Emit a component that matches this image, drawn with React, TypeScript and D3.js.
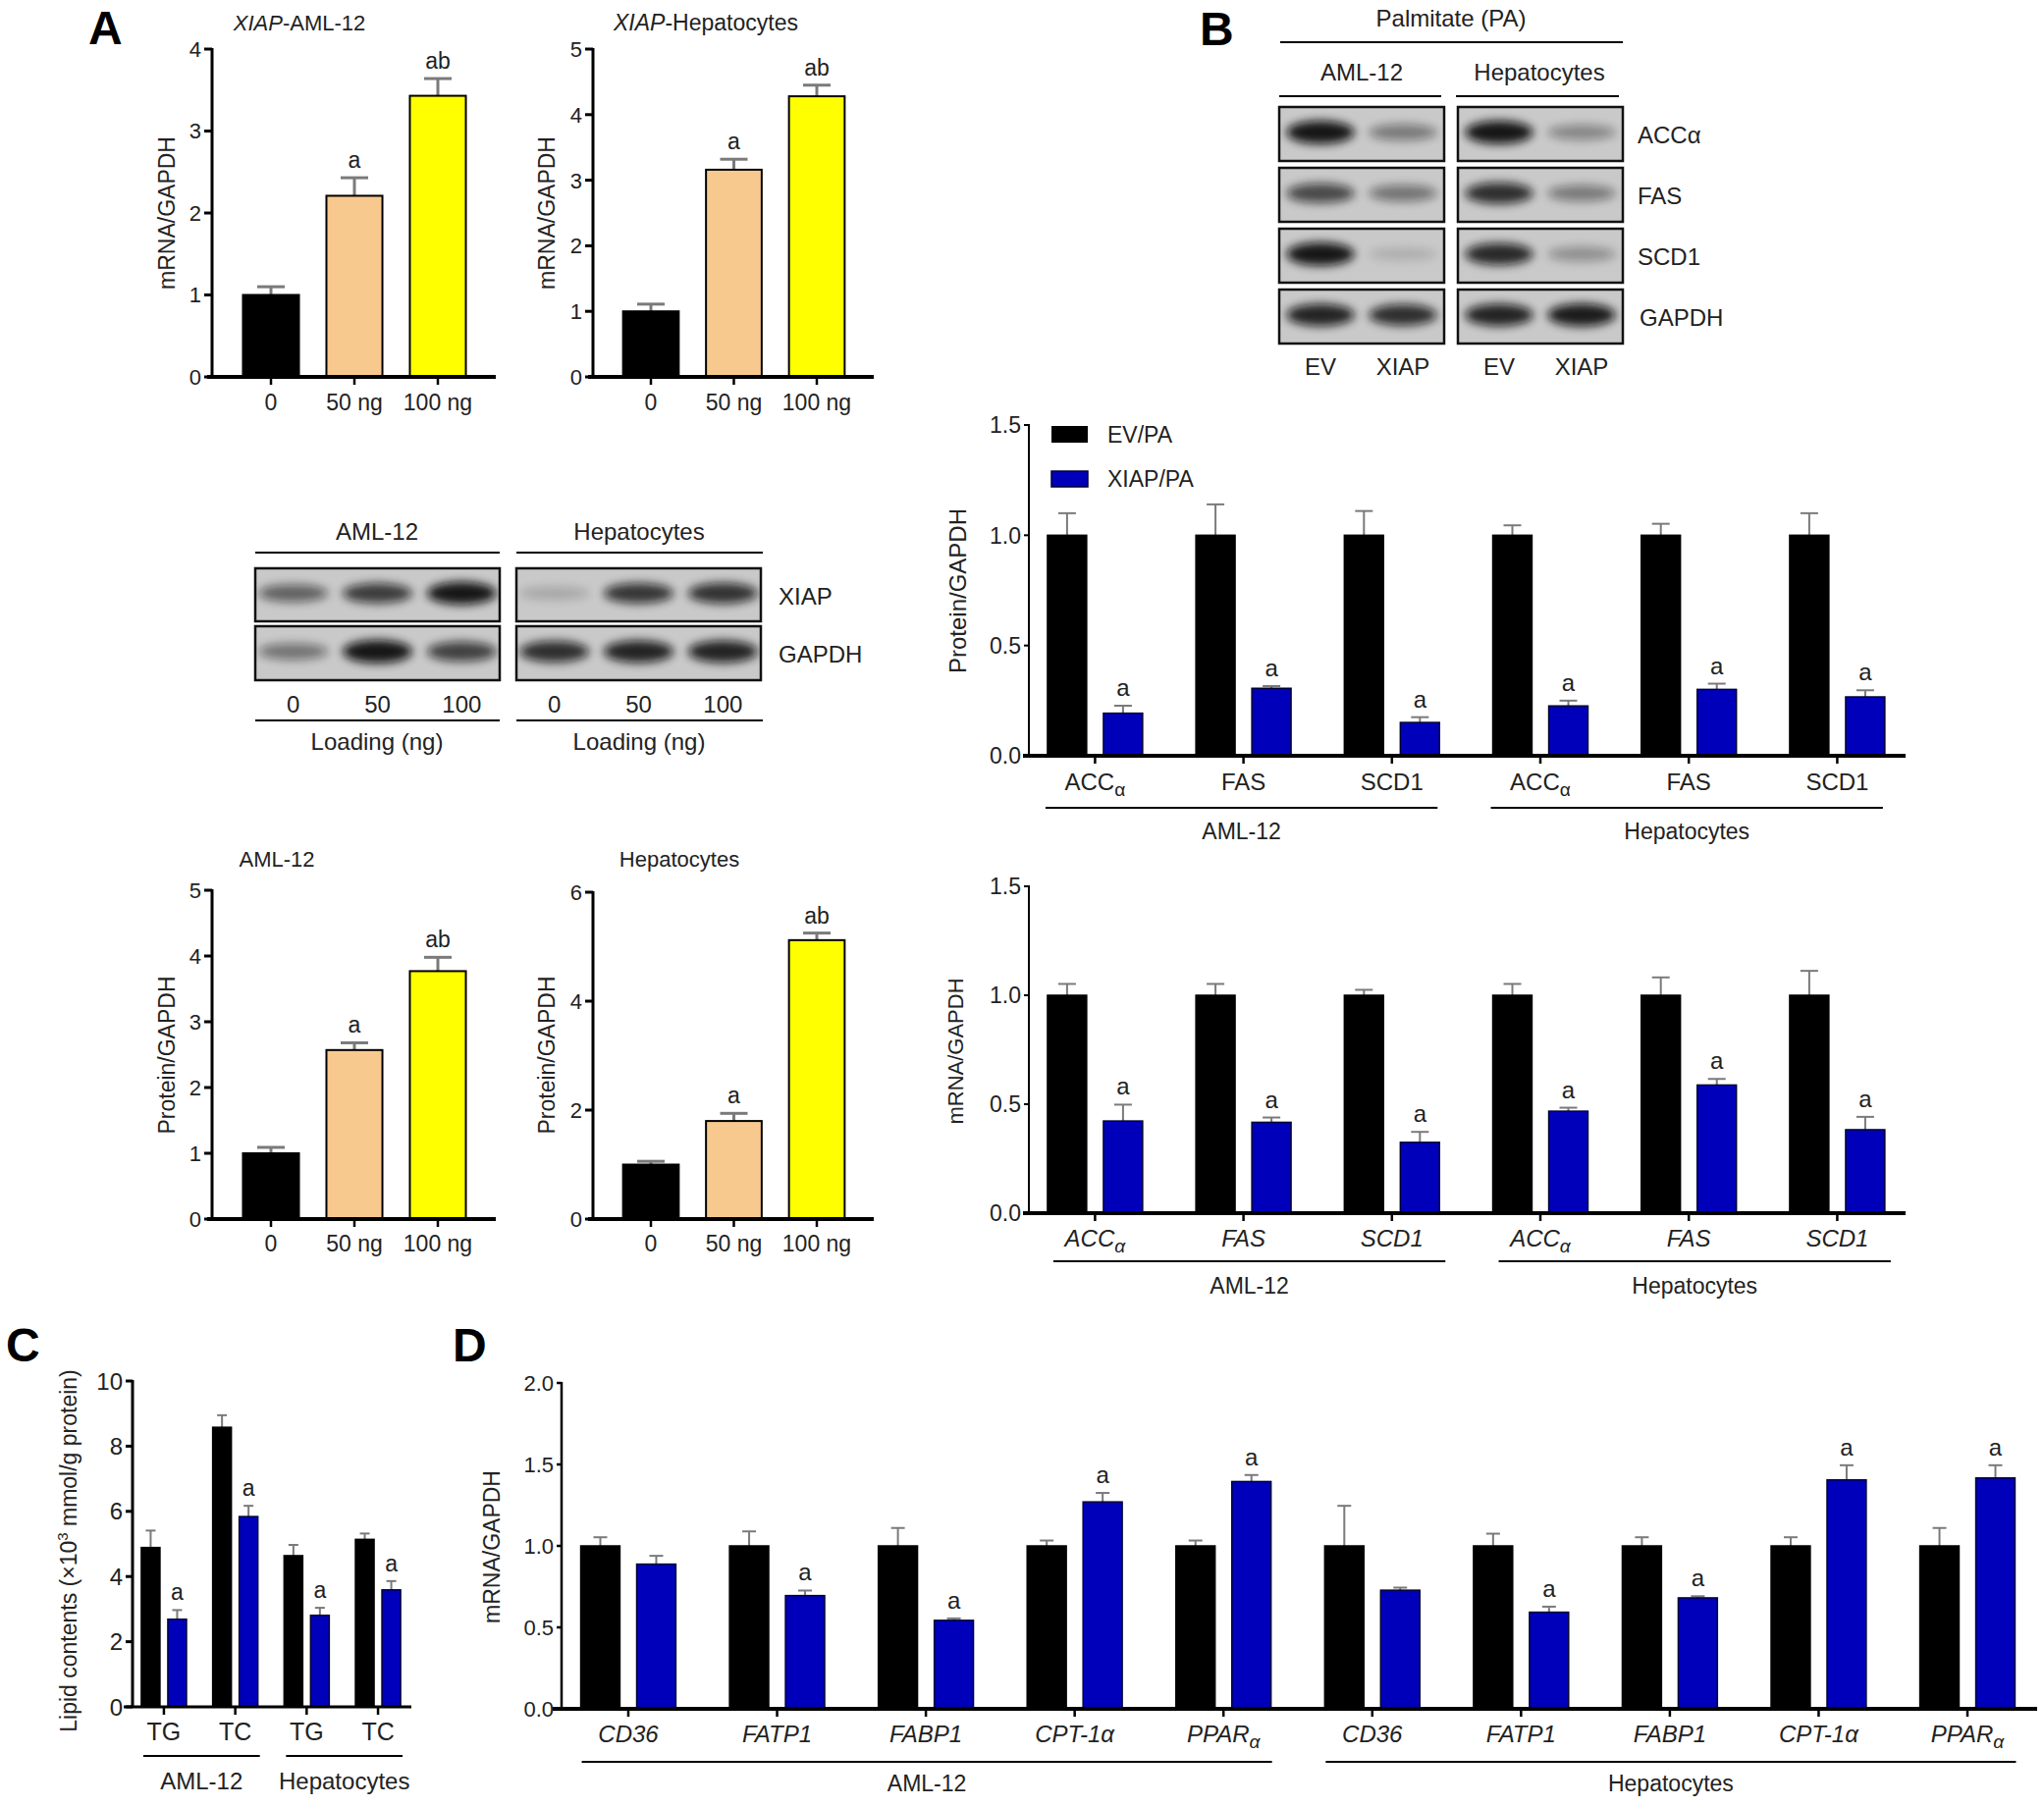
import React from 'react';
import * as d3 from 'd3';

const FONT = '"Liberation Sans", Arial, Helvetica, sans-serif';
const BLUE = '#0000bb';
const PEACH = '#f8c98f';
const YELLOW = '#ffff00';
const ERR = '#7a7a7a';
const TXT = '#222';

// ---------- Panel A: XIAP dose response ----------
const doseLabels = ['0', '50 ng', '100 ng'];
const doseColors = ['#000000', PEACH, YELLOW];
const doseSig = ['', 'a', 'ab'];
const mrnaAml = [1.0, 2.21, 3.43];
const mrnaAmlErr = [0.1, 0.22, 0.21];
const mrnaHep = [1.0, 3.16, 4.28];
const mrnaHepErr = [0.11, 0.16, 0.17];
const protAml = [1.0, 2.57, 3.77];
const protAmlErr = [0.09, 0.11, 0.21];
const protHep = [1.0, 1.8, 5.12];
const protHepErr = [0.06, 0.14, 0.13];

// Panel A blots (band darkness per lane)
const loadLanes = ['0', '50', '100'];
const blotAmlXiap = [0.55, 0.75, 0.95];
const blotAmlGapdh = [0.45, 0.95, 0.72];
const blotHepXiap = [0.18, 0.78, 0.8];
const blotHepGapdh = [0.82, 0.88, 0.88];

// ---------- Panel B ----------
const paLanes = ['EV', 'XIAP'];
const paRows = ['ACCα', 'FAS', 'SCD1', 'GAPDH'];
const paAml = [[0.95, 0.42], [0.68, 0.45], [0.95, 0.14], [0.88, 0.82]];
const paHep = [[0.95, 0.35], [0.82, 0.42], [0.85, 0.3], [0.88, 0.92]];

const lipoGenes = ['ACC_α', 'FAS', 'SCD1', 'ACC_α', 'FAS', 'SCD1'];
const seriesNames = ['EV/PA', 'XIAP/PA'];
const protEv = [1, 1, 1, 1, 1, 1];
const protEvErr = [0.1, 0.14, 0.11, 0.045, 0.052, 0.1];
const protXiap = [0.193, 0.306, 0.151, 0.226, 0.301, 0.267];
const protXiapErr = [0.034, 0.01, 0.024, 0.024, 0.026, 0.03];
const lipoSig = ['a', 'a', 'a', 'a', 'a', 'a'];
const rnaEv = [1, 1, 1, 1, 1, 1];
const rnaEvErr = [0.052, 0.052, 0.025, 0.052, 0.082, 0.112];
const rnaXiap = [0.423, 0.417, 0.325, 0.468, 0.588, 0.383];
const rnaXiapErr = [0.075, 0.022, 0.048, 0.016, 0.028, 0.059];

// ---------- Panel C ----------
const lipidCats = ['TG', 'TC', 'TG', 'TC'];
const lipidEv = [4.89, 8.58, 4.64, 5.14];
const lipidEvErr = [0.52, 0.37, 0.33, 0.18];
const lipidXiap = [2.69, 5.84, 2.81, 3.59];
const lipidXiapErr = [0.28, 0.33, 0.23, 0.27];
const lipidSig = ['a', 'a', 'a', 'a'];

// ---------- Panel D ----------
const faGenes = ['CD36', 'FATP1', 'FABP1', 'CPT-1α', 'PPAR_α', 'CD36', 'FATP1', 'FABP1', 'CPT-1α', 'PPAR_α'];
const faEv = [1, 1, 1, 1, 1, 1, 1, 1, 1, 1];
const faEvErr = [0.053, 0.089, 0.11, 0.033, 0.033, 0.246, 0.075, 0.053, 0.053, 0.11];
const faXiap = [0.888, 0.695, 0.543, 1.27, 1.395, 0.728, 0.593, 0.681, 1.405, 1.417];
const faXiapErr = [0.051, 0.031, 0.012, 0.055, 0.04, 0.016, 0.034, 0.01, 0.09, 0.078];
const faSig = ['', 'a', 'a', 'a', 'a', '', 'a', 'a', 'a', 'a'];

const cellGroups = ['AML-12', 'Hepatocytes'];

type Series = { key: string; values: number[]; errors: number[]; fill: string[]; stroke: string; sig?: string[] };

function Lbl(props: { text: string; x: number; y: number; size: number; italic?: boolean; anchor?: string; fill?: string }) {
  const [main, sub] = props.text.split('_');
  return (
    <text x={props.x} y={props.y} fontSize={props.size} fontFamily={FONT} fill={props.fill || TXT}
      fontStyle={props.italic ? 'italic' : 'normal'} textAnchor={props.anchor || 'middle'}>
      {main}
      {sub && <tspan dy={props.size * 0.25} fontSize={props.size * 0.8}>{sub}</tspan>}
    </text>
  );
}

function YLabel({ text, cx, cy, size }: { text: string; cx: number; cy: number; size: number }) {
  return (
    <text transform={`translate(${cx},${cy}) rotate(-90)`} textAnchor="middle" dy="0.36em"
      fontSize={size} fontFamily={FONT} fill={TXT}>{text}</text>
  );
}

type ChartProps = {
  axisX: number; zeroY: number; topY: number; max: number; ticks: number[]; fmt: (v: number) => string;
  tickFont: number; tickLen: number;
  bandRange: [number, number]; subInner: number; subOuter: number;
  categories: string[]; series: Series[];
  xAxis: [number, number]; yAxisW: number; xAxisW: number;
  capHalf: number; errW: number; barStrokeW: number;
  catY: number; catFont: number; catItalic?: boolean; sigFont: number; xTickLen: number;
  groups?: { label: string; from: number; to: number }[]; lineY?: number; groupY?: number; groupShift?: number;
  groupFont?: number;
};

function BarChart(p: ChartProps) {
  const y = d3.scaleLinear().domain([0, p.max]).range([p.zeroY, p.topY]);
  const gx = d3.scaleBand<string>().domain(p.categories.map((_, i) => String(i))).range(p.bandRange).paddingInner(0).paddingOuter(0);
  const sx = d3.scaleBand<string>().domain(p.series.map(s => s.key)).range([0, gx.bandwidth()])
    .paddingInner(p.subInner).paddingOuter(p.subOuter);
  const bw = sx.bandwidth();
  const center = (i: number) => (gx(String(i)) as number) + gx.bandwidth() / 2;
  return (
    <g>
      {p.categories.map((_, i) =>
        p.series.map((s, si) => {
          const x0 = (gx(String(i)) as number) + (sx(s.key) as number);
          const v = s.values[i];
          const top = y(v + s.errors[i]);
          const cx = x0 + bw / 2;
          return (
            <g key={`${i}-${si}`}>
              <line x1={cx} x2={cx} y1={y(v)} y2={top} stroke={ERR} strokeWidth={p.errW} />
              <line x1={cx - p.capHalf} x2={cx + p.capHalf} y1={top} y2={top} stroke={ERR} strokeWidth={p.errW} />
              <rect x={x0} y={y(v)} width={bw} height={p.zeroY - y(v)} fill={s.fill[i % s.fill.length]}
                stroke={s.stroke} strokeWidth={p.barStrokeW} />
              {s.sig && s.sig[i] && (
                <text x={cx} y={top - 10} textAnchor="middle" fontSize={p.sigFont} fontFamily={FONT} fill={TXT}>{s.sig[i]}</text>
              )}
            </g>
          );
        })
      )}
      <line x1={p.axisX} x2={p.axisX} y1={p.zeroY} y2={p.topY - 1} stroke="#000" strokeWidth={p.yAxisW} />
      {p.ticks.map(t => (
        <g key={t}>
          <line x1={p.axisX - p.tickLen} x2={p.axisX} y1={y(t)} y2={y(t)} stroke="#000" strokeWidth={p.yAxisW} />
          <text x={p.axisX - p.tickLen - 3} y={y(t)} dy="0.36em" textAnchor="end" fontSize={p.tickFont}
            fontFamily={FONT} fill={TXT}>{p.fmt(t)}</text>
        </g>
      ))}
      <line x1={p.xAxis[0]} x2={p.xAxis[1]} y1={p.zeroY} y2={p.zeroY} stroke="#000" strokeWidth={p.xAxisW} />
      {p.categories.map((c, i) => (
        <g key={'c' + i}>
          <line x1={center(i)} x2={center(i)} y1={p.zeroY} y2={p.zeroY + p.xTickLen} stroke="#000" strokeWidth={2.5} />
          <Lbl text={c} x={center(i)} y={p.catY} size={p.catFont} italic={p.catItalic} />
        </g>
      ))}
      {p.groups && p.groups.map(g => {
        const last = p.series[p.series.length - 1].key;
        const a = (gx(String(g.from)) as number) + (sx(p.series[0].key) as number) + (p.groupShift || 0);
        const b = (gx(String(g.to)) as number) + (sx(last) as number) + bw + (p.groupShift || 0);
        return (
          <g key={g.label}>
            <line x1={a} x2={b} y1={p.lineY} y2={p.lineY} stroke="#000" strokeWidth={2} />
            <Lbl text={g.label} x={(a + b) / 2} y={p.groupY as number} size={p.groupFont || 23} />
          </g>
        );
      })}
    </g>
  );
}

function Blot({ x, y, w, h, levels, pi, po, id }: { x: number; y: number; w: number; h: number; levels: number[]; pi: number; po: number; id: string }) {
  const lanes = d3.scaleBand<string>().domain(levels.map((_, i) => String(i))).range([x, x + w]).paddingInner(pi).paddingOuter(po);
  const bw = lanes.bandwidth();
  return (
    <g>
      <clipPath id={id}><rect x={x} y={y} width={w} height={h} /></clipPath>
      <rect x={x} y={y} width={w} height={h} fill="#c9c9c9" />
      <g clipPath={`url(#${id})`}>
        {levels.map((lv, i) => (
          <ellipse key={i} cx={(lanes(String(i)) as number) + bw / 2} cy={y + h * 0.47} rx={bw * 0.46}
            ry={h * (0.1 + 0.12 * lv)} fill="#0a0a0a" opacity={lv} filter="url(#blotBlur)" />
        ))}
      </g>
      <rect x={x} y={y} width={w} height={h} fill="none" stroke="#111" strokeWidth={2.5} />
    </g>
  );
}

function laneCenters(x: number, w: number, n: number, pi: number, po: number) {
  const s = d3.scaleBand<string>().domain(d3.range(n).map(String)).range([x, x + w]).paddingInner(pi).paddingOuter(po);
  return d3.range(n).map(i => (s(String(i)) as number) + s.bandwidth() / 2);
}

export default function App() {
  const f0 = (v: number) => String(v);
  const f1 = (v: number) => v.toFixed(1);
  const doseSeries = (vals: number[], errs: number[]): Series[] => [
    { key: 'v', values: vals, errors: errs, fill: doseColors, stroke: '#000', sig: doseSig },
  ];
  const pair = (ev: number[], evE: number[], xi: number[], xiE: number[], sig: string[]): Series[] => [
    { key: seriesNames[0], values: ev, errors: evE, fill: ['#000'], stroke: '#000' },
    { key: seriesNames[1], values: xi, errors: xiE, fill: [BLUE], stroke: '#000033', sig },
  ];
  const aCommon = {
    tickFont: 22, tickLen: 8, subInner: 0, subOuter: 0.245, categories: doseLabels, yAxisW: 3, xAxisW: 4,
    capHalf: 14, errW: 3, barStrokeW: 2, catFont: 23, sigFont: 23, xTickLen: 8,
  };
  const bCommon = {
    axisX: 1048, max: 1.5, ticks: [0, 0.5, 1, 1.5], fmt: f1, tickFont: 23, tickLen: 5,
    bandRange: [1039.8, 1947] as [number, number], subInner: 0.3, subOuter: 0.476, categories: lipoGenes,
    xAxis: [1042, 1941] as [number, number], yAxisW: 2, xAxisW: 4, capHalf: 9, errW: 2, barStrokeW: 1.5,
    catFont: 24, sigFont: 24, xTickLen: 8,
    groups: [{ label: cellGroups[0], from: 0, to: 2 }, { label: cellGroups[1], from: 3, to: 5 }],
  };

  // Panel A blot geometry
  const aAmlLanes = laneCenters(260, 249, 3, 0.1, 0);
  const aHepLanes = laneCenters(526, 249, 3, 0.1, 0);
  const bAmlLanes = laneCenters(1303, 168, 2, 0.1, 0.05);
  const bHepLanes = laneCenters(1485, 168, 2, 0.1, 0.05);
  const bRowY = [109, 171, 233, 295];

  return (
    <svg width={2082} height={1840} style={{ position: 'absolute', left: 0, top: 0, background: '#fff' }}>
      <defs>
        <filter id="blotBlur" x="-30%" y="-80%" width="160%" height="260%">
          <feGaussianBlur stdDeviation="5" />
        </filter>
      </defs>
      <rect width={2082} height={1840} fill="#fff" />

      {/* panel letters */}
      <text x={90} y={45} fontSize={48} fontWeight="bold" fontFamily={FONT}>A</text>
      <text x={1222} y={46} fontSize={48} fontWeight="bold" fontFamily={FONT}>B</text>
      <text x={6} y={1387} fontSize={48} fontWeight="bold" fontFamily={FONT}>C</text>
      <text x={461} y={1387} fontSize={48} fontWeight="bold" fontFamily={FONT}>D</text>

      {/* ---------- Panel A charts ---------- */}
      <text x={305} y={31} textAnchor="middle" fontSize={22} fontFamily={FONT} fill={TXT}>
        <tspan fontStyle="italic">XIAP</tspan>-AML-12
      </text>
      <YLabel text="mRNA/GAPDH" cx={170} cy={217} size={23} />
      <BarChart {...aCommon} axisX={216} zeroY={384} topY={50} max={4} ticks={[0, 1, 2, 3, 4]} fmt={f0}
        bandRange={[233.5, 488.5]} series={doseSeries(mrnaAml, mrnaAmlErr)} xAxis={[211, 505]} catY={418} />

      <text x={719} y={31} textAnchor="middle" fontSize={23} fontFamily={FONT} fill={TXT}>
        <tspan fontStyle="italic">XIAP</tspan>-Hepatocytes
      </text>
      <YLabel text="mRNA/GAPDH" cx={557} cy={217} size={23} />
      <BarChart {...aCommon} axisX={604} zeroY={384} topY={50} max={5} ticks={[0, 1, 2, 3, 4, 5]} fmt={f0}
        bandRange={[620.75, 874.25]} series={doseSeries(mrnaHep, mrnaHepErr)} xAxis={[599, 890]} catY={418} />

      <Lbl text={cellGroups[0]} x={282} y={883} size={22} />
      <YLabel text="Protein/GAPDH" cx={170} cy={1075} size={23} />
      <BarChart {...aCommon} axisX={216} zeroY={1242} topY={907} max={5} ticks={[0, 1, 2, 3, 4, 5]} fmt={f0}
        bandRange={[233.5, 488.5]} series={doseSeries(protAml, protAmlErr)} xAxis={[211, 505]} catY={1275} />

      <Lbl text={cellGroups[1]} x={692} y={883} size={22} />
      <YLabel text="Protein/GAPDH" cx={557} cy={1075} size={23} />
      <BarChart {...aCommon} axisX={604} zeroY={1242} topY={909} max={6} ticks={[0, 2, 4, 6]} fmt={f0}
        bandRange={[620.75, 874.25]} series={doseSeries(protHep, protHepErr)} xAxis={[599, 890]} catY={1275} />

      {/* ---------- Panel A blots ---------- */}
      <Lbl text={cellGroups[0]} x={384} y={550} size={24} />
      <Lbl text={cellGroups[1]} x={651} y={550} size={24} />
      <line x1={260} x2={509} y1={563} y2={563} stroke="#000" strokeWidth={2} />
      <line x1={526} x2={777} y1={563} y2={563} stroke="#000" strokeWidth={2} />
      <Blot id="a1" x={260} y={579} w={249} h={54} levels={blotAmlXiap} pi={0.1} po={0} />
      <Blot id="a2" x={260} y={638} w={249} h={55} levels={blotAmlGapdh} pi={0.1} po={0} />
      <Blot id="a3" x={526} y={579} w={249} h={54} levels={blotHepXiap} pi={0.1} po={0} />
      <Blot id="a4" x={526} y={638} w={249} h={55} levels={blotHepGapdh} pi={0.1} po={0} />
      <Lbl text="XIAP" x={793} y={616} size={24} anchor="start" />
      <Lbl text="GAPDH" x={793} y={675} size={24} anchor="start" />
      {loadLanes.map((l, i) => (
        <g key={l}>
          <Lbl text={l} x={aAmlLanes[i]} y={726} size={24} />
          <Lbl text={l} x={aHepLanes[i]} y={726} size={24} />
        </g>
      ))}
      <line x1={260} x2={509} y1={734} y2={734} stroke="#000" strokeWidth={2} />
      <line x1={526} x2={777} y1={734} y2={734} stroke="#000" strokeWidth={2} />
      <Lbl text="Loading (ng)" x={384} y={764} size={24} />
      <Lbl text="Loading (ng)" x={651} y={764} size={24} />

      {/* ---------- Panel B blots ---------- */}
      <Lbl text="Palmitate (PA)" x={1478} y={27} size={24} />
      <line x1={1304} x2={1653} y1={43} y2={43} stroke="#000" strokeWidth={2} />
      <Lbl text={cellGroups[0]} x={1387} y={82} size={24} />
      <Lbl text={cellGroups[1]} x={1568} y={82} size={24} />
      <line x1={1303} x2={1468} y1={98} y2={98} stroke="#000" strokeWidth={2} />
      <line x1={1483} x2={1649} y1={98} y2={98} stroke="#000" strokeWidth={2} />
      {paRows.map((r, i) => (
        <g key={r}>
          <Blot id={`b${i}a`} x={1303} y={bRowY[i]} w={168} h={55} levels={paAml[i]} pi={0.1} po={0.05} />
          <Blot id={`b${i}h`} x={1485} y={bRowY[i]} w={168} h={55} levels={paHep[i]} pi={0.1} po={0.05} />
          <Lbl text={r} x={r === 'GAPDH' ? 1670 : 1668} y={bRowY[i] + 37} size={24} anchor="start" />
        </g>
      ))}
      {paLanes.map((l, i) => (
        <g key={l}>
          <Lbl text={l} x={bAmlLanes[i]} y={382} size={24} />
          <Lbl text={l} x={bHepLanes[i]} y={382} size={24} />
        </g>
      ))}

      {/* ---------- Panel B charts ---------- */}
      <YLabel text="Protein/GAPDH" cx={975} cy={602} size={24} />
      <BarChart {...bCommon} zeroY={770} topY={433}
        series={pair(protEv, protEvErr, protXiap, protXiapErr, lipoSig)} catY={805}
        lineY={823} groupY={855} groupShift={-2} />
      <rect x={1071} y={434} width={37} height={17} fill="#000" />
      <rect x={1071} y={480} width={37} height={16} fill={BLUE} stroke="#000033" strokeWidth={1.5} />
      <Lbl text={seriesNames[0]} x={1128} y={451} size={23} anchor="start" />
      <Lbl text={seriesNames[1]} x={1128} y={496} size={23} anchor="start" />

      <YLabel text="mRNA/GAPDH" cx={973} cy={1071} size={22} />
      <BarChart {...bCommon} zeroY={1236} topY={903}
        series={pair(rnaEv, rnaEvErr, rnaXiap, rnaXiapErr, lipoSig)} catY={1270} catItalic
        lineY={1285} groupY={1318} groupShift={6} />

      {/* ---------- Panel C ---------- */}
      <text transform="translate(70,1580) rotate(-90)" textAnchor="middle" dy="0.36em" fontSize={23}
        fontFamily={FONT} fill={TXT}>
        Lipid contents (×10<tspan dy={-9} fontSize={15}>3</tspan><tspan dy={9}> mmol/g protein)</tspan>
      </text>
      <BarChart axisX={135} zeroY={1739} topY={1407} max={10} ticks={[0, 2, 4, 6, 8, 10]} fmt={f0}
        tickFont={24} tickLen={7} bandRange={[130.6, 421.4]} subInner={0.296} subOuter={0.494}
        categories={lipidCats} series={pair(lipidEv, lipidEvErr, lipidXiap, lipidXiapErr, lipidSig)}
        xAxis={[126, 419]} yAxisW={3} xAxisW={3} capHalf={5} errW={2} barStrokeW={1.5}
        catY={1773} catFont={25} sigFont={23} xTickLen={8}
        groups={[{ label: cellGroups[0], from: 0, to: 1 }, { label: cellGroups[1], from: 2, to: 3 }]}
        lineY={1789} groupY={1823} groupShift={2} groupFont={24} />

      {/* ---------- Panel D ---------- */}
      <YLabel text="mRNA/GAPDH" cx={501} cy={1576} size={23} />
      <BarChart axisX={572} zeroY={1741} topY={1409} max={2} ticks={[0, 0.5, 1, 1.5, 2]} fmt={f1}
        tickFont={22} tickLen={5} bandRange={[564.2, 2079.8]} subInner={0.3} subOuter={0.48}
        categories={faGenes} series={pair(faEv, faEvErr, faXiap, faXiapErr, faSig)}
        xAxis={[563, 2075]} yAxisW={2.5} xAxisW={4} capHalf={7} errW={2} barStrokeW={1.5}
        catY={1775} catFont={24} catItalic sigFont={24} xTickLen={8}
        groups={[{ label: cellGroups[0], from: 0, to: 4 }, { label: cellGroups[1], from: 5, to: 9 }]}
        lineY={1795} groupY={1825} groupShift={1} />
    </svg>
  );
}
